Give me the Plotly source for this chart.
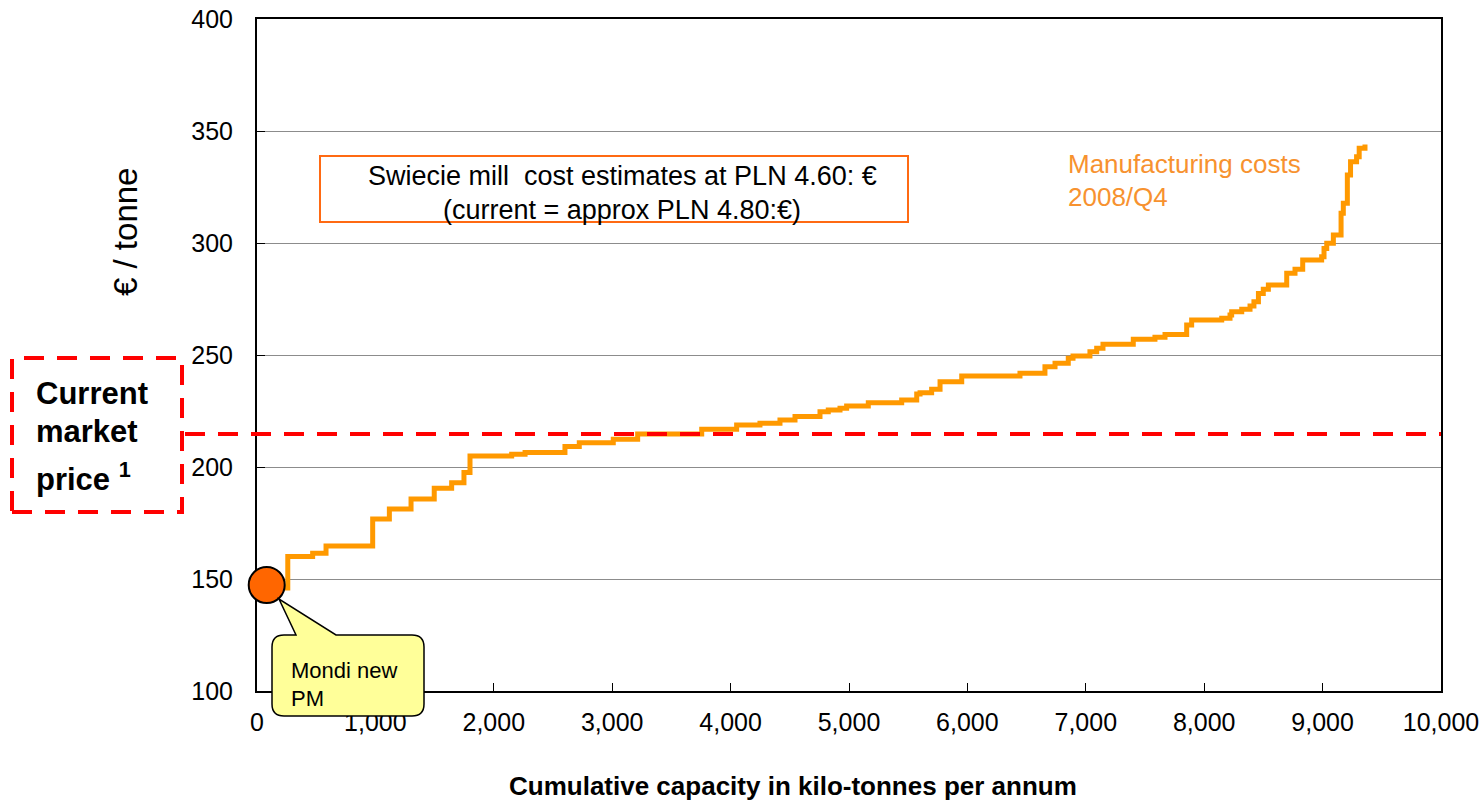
import plotly.graph_objects as go

# ---- data ----
capacity_kt = [0, 260, 470, 583, 977, 1118, 1301, 1497, 1644, 1748, 1799, 2151, 2264, 2601, 2722,
               3009, 3215, 3756, 4051, 4248, 4417, 4544, 4755, 4825, 4924, 4980, 5163, 5445, 5572,
               5600, 5698, 5769, 5952, 6444, 6655, 6740, 6852, 6892, 7035, 7092, 7145, 7401, 7584,
               7669, 7852, 7894, 8148, 8218, 8232, 8317, 8387, 8420, 8458, 8499, 8542, 8697, 8767,
               8832, 8992, 9012, 9035, 9091, 9156, 9175, 9209, 9236, 9287, 9309, 9358]
cost_eur_t = [146, 160, 161.5, 164.7, 176.8, 181.2, 185.7, 190.5, 193, 197.6, 204.9, 205.7, 206.5,
              209.1, 210.8, 212.4, 214.7, 216.8, 218.75, 219.5, 221, 222.6, 224.7, 225.4, 226.2,
              227.2, 228.7, 229.9, 232.6, 233.2, 234.7, 238.1, 240.6, 241.8, 244.8, 246.3, 248.5,
              249.6, 251.5, 253, 254.8, 257, 257.9, 259.2, 263.4, 265.6, 266.4, 267.9, 269.3, 270.4,
              271.9, 273.8, 277.5, 279.3, 281.25, 286.5, 288.3, 292.4, 293.9, 297.6, 299.9, 303.6,
              313.3, 317.7, 330.4, 336.3, 338.5, 342.3, 344]
mondi_x = [82]
mondi_y = [147.3]
market_price = 214.7
x_ticks = list(range(0, 10001, 1000))
y_ticks = list(range(100, 401, 50))

# ---- geometry helpers (pixel -> paper) ----
W, H = 1483, 801
L, R, T, B = 257, 1441, 19, 691


def px(x):
    return (x - L) / (R - L)


def py(y):
    return (B - y) / (B - T)


FONT = "Liberation Sans, Arial, sans-serif"
ORANGE = "#FF9900"

fig = go.Figure()
fig.add_trace(go.Scatter(
    x=capacity_kt, y=cost_eur_t, mode="lines", line=dict(color=ORANGE, width=5, shape="hv"),
    hoverinfo="skip", showlegend=False))
fig.add_trace(go.Scatter(
    x=mondi_x, y=mondi_y, mode="markers", cliponaxis=False,
    marker=dict(size=36, color="#FF6600", line=dict(color="black", width=2)),
    hoverinfo="skip", showlegend=False))

shapes = []
# market price dashed line
shapes.append(dict(type="line", xref="paper", yref="y", x0=px(185), x1=1.0, y0=market_price, y1=market_price,
                   line=dict(color="#FF0000", width=4, dash="20px,13px"), layer="above"))
# dashed box
shapes.append(dict(type="rect", xref="paper", yref="paper", x0=px(12), x1=px(182), y0=py(512), y1=py(358),
                   line=dict(color="#FF0000", width=4, dash="20px,13px"), fillcolor="rgba(0,0,0,0)", layer="above"))
# text box
shapes.append(dict(type="rect", xref="paper", yref="paper", x0=px(320), x1=px(908), y0=py(222), y1=py(156),
                   line=dict(color="#FF6A13", width=2), fillcolor="white", layer="above"))

# callout
x0, x1, y0, y1, r = 272, 424, 635, 716, 12


def P(x, y):
    return f"{px(x):.5f},{py(y):.5f}"


path = (f"M {P(x0 + r, y0)} L {P(296, y0)} L {P(279, 599)} L {P(336, y0)} L {P(x1 - r, y0)} "
        f"Q {P(x1, y0)} {P(x1, y0 + r)} L {P(x1, y1 - r)} Q {P(x1, y1)} {P(x1 - r, y1)} "
        f"L {P(x0 + r, y1)} Q {P(x0, y1)} {P(x0, y1 - r)} L {P(x0, y0 + r)} Q {P(x0, y0)} {P(x0 + r, y0)} Z")
shapes.append(dict(type="path", xref="paper", yref="paper", path=path, fillcolor="#FFFF99",
                   line=dict(color="black", width=1.5), layer="above"))

annotations = []


def ann(text, x, y, size, color="black", xanchor="left", yanchor="middle", bold=False, angle=0, align="left"):
    if bold:
        text = f"<b>{text}</b>"
    annotations.append(dict(text=text, x=px(x), y=py(y), xref="paper", yref="paper", showarrow=False,
                            xanchor=xanchor, yanchor=yanchor, textangle=angle, align=align,
                            font=dict(family=FONT, size=size, color=color)))


ann("Current", 34, 393, 31, bold=True)
ann("market", 34, 432, 31, bold=True)
ann("price <sup>1</sup>", 34, 477, 31, bold=True)
ann("€ / tonne", 125, 232, 33, xanchor="center", angle=-90)
ann("Cumulative capacity in kilo-tonnes per annum", 793, 786, 26, xanchor="center", bold=True)
ann("Swiecie mill  cost estimates at PLN 4.60: €", 622, 176, 27, xanchor="center")
ann("(current = approx PLN 4.80:€)", 622, 210, 27, xanchor="center")
ann("Manufacturing costs", 1066, 164, 26, color="#F7922F")
ann("2008/Q4", 1066, 197, 26, color="#F7922F")
ann("Mondi new", 289, 670, 22)
ann("PM", 289, 698, 22)

fig.update_layout(
    width=W, height=H, autosize=False,
    margin=dict(l=L, r=W - R, t=T, b=H - B, pad=0),
    plot_bgcolor="white", paper_bgcolor="white",
    font=dict(family=FONT, size=25, color="black"),
    shapes=shapes, annotations=annotations,
    xaxis=dict(range=[0, 10000], tickvals=x_ticks, tickformat=",d", ticks="inside", ticklen=8,
               tickcolor="black", showline=True, linecolor="black", linewidth=2, mirror=True,
               showgrid=False, zeroline=False, layer="below traces", automargin=False,
               ticklabelstandoff=8,
               tickfont=dict(family=FONT, size=25, color="black")),
    yaxis=dict(range=[100, 400], tickvals=y_ticks, ticks="inside", ticklen=8, tickcolor="black",
               showline=True, linecolor="black", linewidth=2, mirror=True, automargin=False,
               showgrid=True, gridcolor="#8C8C8C", gridwidth=1, zeroline=False, layer="below traces",
               ticklabelstandoff=17,
               tickfont=dict(family=FONT, size=25, color="black")),
)

fig.write_html("out.html")
